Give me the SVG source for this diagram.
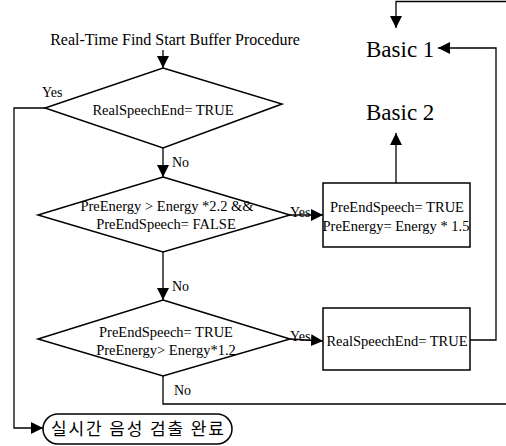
<svg xmlns="http://www.w3.org/2000/svg" width="506" height="446" viewBox="0 0 506 446">
<defs>
<marker id="ahb" viewBox="0 0 12 12" refX="12" refY="6" markerWidth="12" markerHeight="12" markerUnits="userSpaceOnUse" orient="auto">
<path d="M0,0 L12,6 L0,12 z" fill="#000"/>
</marker>
</defs>
<style>
.shape{fill:#fff;stroke:#000;stroke-width:1.5}
.ln{fill:none;stroke:#000;stroke-width:1.3}
.t{font-family:"Liberation Serif","Times New Roman",serif;font-size:14.5px;fill:#000;text-anchor:middle}
.ttl{font-family:"Liberation Serif","Times New Roman",serif;font-size:16px;fill:#000;text-anchor:middle}
.lbl{font-family:"Liberation Serif","Times New Roman",serif;font-size:14px;fill:#000}
.big{font-family:"Liberation Serif","Times New Roman",serif;font-size:23px;fill:#000}
.kr{font-family:"Noto Sans CJK KR","Noto Sans",sans-serif;font-size:17px;fill:#000}
</style>
<rect width="506" height="446" fill="#fff"/>

<g id="title"><text class="ttl" x="175" y="45">Real-Time Find Start Buffer Procedure</text></g>

<g id="basic1"><text class="big" x="366" y="57">Basic 1</text></g>
<g id="basic2"><text class="big" x="366" y="120">Basic 2</text></g>

<g id="d1"><polygon class="shape" points="163,68 282,104 163,148 45,108"/>
<text class="t" x="163" y="115">RealSpeechEnd= TRUE</text></g>

<g id="d2"><polygon class="shape" points="163,177 290,215 163,252 38,215"/>
<text class="t" x="167" y="211">PreEnergy &gt; Energy *2.2 &amp;&amp;</text>
<text class="t" x="166" y="229">PreEndSpeech= FALSE</text></g>

<g id="d3"><polygon class="shape" points="163,300 290,339 163,376 38,339"/>
<text class="t" x="166" y="337">PreEndSpeech= TRUE</text>
<text class="t" x="166" y="355">PreEnergy&gt; Energy*1.2</text></g>

<g id="b1"><rect class="shape" x="323" y="183" width="147" height="64"/>
<text class="t" x="397" y="212">PreEndSpeech= TRUE</text>
<text class="t" x="396" y="231">PreEnergy= Energy * 1.5</text></g>

<g id="b2"><rect class="shape" x="323" y="308" width="147" height="62"/>
<text class="t" x="397" y="346">RealSpeechEnd= TRUE</text></g>

<g id="end"><rect class="shape" x="43" y="414" width="189" height="30" rx="15" ry="15"/>
<text class="kr" x="51" y="435" textLength="173" lengthAdjust="spacing">실시간 음성 검출 완료</text></g>

<g id="connectors">
<line class="ln" x1="163" y1="50" x2="163" y2="68" marker-end="url(#ahb)"/>
<polyline class="ln" points="45,108 14,108 14,428 43,428" marker-end="url(#ahb)"/>
<line class="ln" x1="163" y1="148" x2="163" y2="177" marker-end="url(#ahb)"/>
<line class="ln" x1="290" y1="215" x2="323" y2="215" marker-end="url(#ahb)"/>
<line class="ln" x1="163" y1="252" x2="163" y2="300" marker-end="url(#ahb)"/>
<line class="ln" x1="290" y1="339" x2="323" y2="341" marker-end="url(#ahb)"/>
<line class="ln" x1="396" y1="183" x2="396" y2="133" marker-end="url(#ahb)"/>
<polyline class="ln" points="470,340 496,340 496,48 438,48" marker-end="url(#ahb)"/>
<polyline class="ln" points="506,1.5 396,1.5 396,28" marker-end="url(#ahb)"/>
<polyline class="ln" points="163,376 163,404 506,404"/>
<text class="lbl" x="42" y="97">Yes</text>
<text class="lbl" x="172" y="167">No</text>
<text class="lbl" x="172" y="291">No</text>
<text class="lbl" x="174" y="395">No</text>
<text class="lbl" x="290" y="217">Yes</text>
<text class="lbl" x="290" y="341">Yes</text>
</g>
</svg>
